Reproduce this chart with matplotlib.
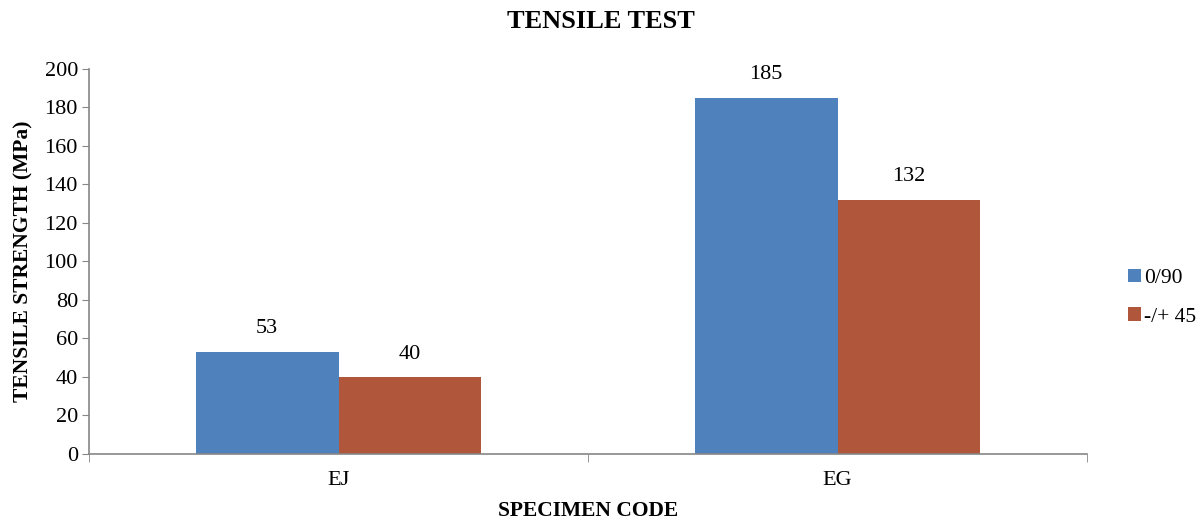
import matplotlib

matplotlib.use("Agg")
import matplotlib.pyplot as plt
import numpy as np

plt.rcParams["font.family"] = ["Liberation Serif", "DejaVu Serif"]

categories = ["EJ", "EG"]
series_names = ["0/90", "-/+ 45"]
strength_0_90 = [53, 185]
strength_45 = [40, 132]

BLUE = "#4f81bd"
RED = "#b0573b"
AXIS_GREY = "#868686"

fig = plt.figure(figsize=(12.01, 5.21), dpi=100)
ax = fig.add_axes([0.0741, 0.1286, 0.8310, 0.7390])

x = np.arange(len(categories))
width = 0.286
bars_a = ax.bar(x - width / 2, strength_0_90, width, color=BLUE, label=series_names[0])
bars_b = ax.bar(x + width / 2, strength_45, width, color=RED, label=series_names[1])

for bars in (bars_a, bars_b):
    for bar in bars:
        h = bar.get_height()
        ax.text(bar.get_x() + bar.get_width() / 2, h + 7, f"{h:g}",
                ha="center", va="bottom", fontsize=16)

ax.set_xlim(-0.5, 1.5)
ax.set_ylim(0, 200)
ax.set_yticks(np.arange(0, 201, 20))
ax.set_xticks(x)
ax.set_xticklabels(categories, fontsize=16)
ax.tick_params(axis="y", labelsize=16, length=5, color=AXIS_GREY, pad=3)
ax.tick_params(axis="x", length=0, pad=12)
# category boundary ticks under the x axis
ax.set_xticks([-0.5, 0.5, 1.5], minor=True)
ax.tick_params(axis="x", which="minor", length=6, color=AXIS_GREY)

for side in ("top", "right"):
    ax.spines[side].set_visible(False)
for side in ("left", "bottom"):
    ax.spines[side].set_color(AXIS_GREY)
    ax.spines[side].set_linewidth(1.2)

ax.set_ylabel("TENSILE STRENGTH (MPa)", fontsize=15.5, fontweight="bold", labelpad=8)
ax.set_xlabel("SPECIMEN CODE", fontsize=15.5, fontweight="bold", labelpad=8)
fig.text(0.5, 0.958, "TENSILE TEST", ha="center", va="center",
         fontsize=19, fontweight="bold")

ax.legend(loc="center left", bbox_to_anchor=(1.041, 0.406), frameon=False,
          fontsize=15.5, handlelength=0.6, handleheight=0.6, handletextpad=0.15,
          labelspacing=0.9, borderpad=0, borderaxespad=0)

fig.savefig("out.png", dpi=100)
